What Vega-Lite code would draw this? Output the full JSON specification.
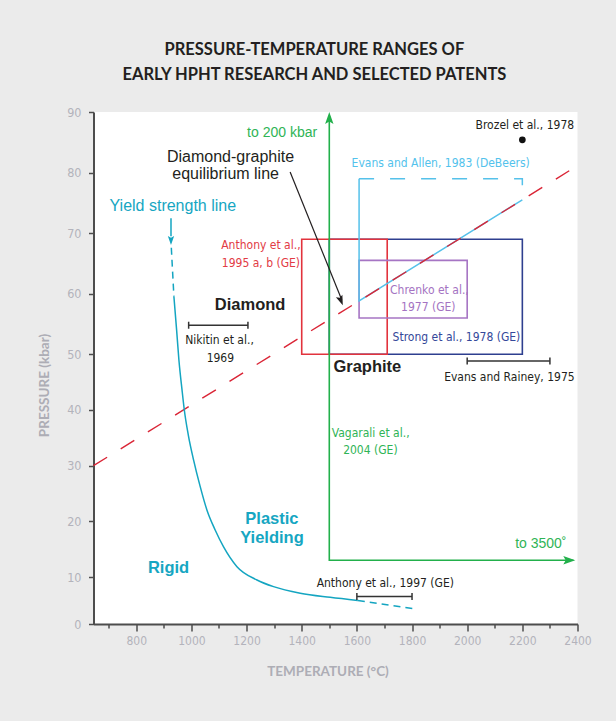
{
  "$schema": "https://vega.github.io/schema/vega-lite/v6.json",
  "autosize": {"type": "none"},
  "padding": {"left": 93.5, "top": 112, "right": 38.5, "bottom": 97},
  "width": 484,
  "height": 512,
  "background": "#ebebeb",
  "config": {"view": {"fill": "white", "stroke": null}},
  "title": {
    "text": ["PRESSURE-TEMPERATURE RANGES OF", "EARLY HPHT RESEARCH AND SELECTED PATENTS"],
    "font": "Lato", "fontSize": 16.5, "fontWeight": "bold", "color": "#231f20",
    "lineHeight": 25, "anchor": "middle", "frame": "bounds", "offset": 22.5
  },
  "datasets": {
    "boxes": [
      {"src": "Strong et al., 1978 (GE)", "x": 1500, "x2": 2200, "y": 50, "y2": 69},
      {"src": "Anthony et al., 1995 a, b (GE)", "x": 1400, "x2": 1710, "y": 50, "y2": 69},
      {"src": "Chrenko et al., 1977 (GE)", "x": 1608, "x2": 2000, "y": 56, "y2": 65.5}
    ],
    "evans_solid": [
      {"o": 1, "x": 2200, "y": 75.5},
      {"o": 2, "x": 1608, "y": 58.8},
      {"o": 3, "x": 1608, "y": 79}
    ],
    "evans_dash": [
      {"o": 1, "x": 1608, "y": 79},
      {"o": 2, "x": 2200, "y": 79},
      {"o": 3, "x": 2200, "y": 75.5}
    ],
    "equilibrium": [
      {"x": 645, "y": 30},
      {"x": 2370, "y": 80.3}
    ],
    "vagarali": [
      {"o": 1, "x": 1500, "y": 88.5},
      {"o": 2, "x": 1500, "y": 13},
      {"o": 3, "x": 2385, "y": 13}
    ],
    "vagarali_up": [{"x": 1500, "y": 90}],
    "vagarali_right": [{"x": 2392, "y": 13}],
    "yield_solid": [
      {"x": 936.6, "y": 59.5}, {"x": 946.4, "y": 54.0}, {"x": 954.7, "y": 48.98},
      {"x": 966, "y": 43.6}, {"x": 974.3, "y": 40.0}, {"x": 988.8, "y": 35.5},
      {"x": 1008, "y": 31.0}, {"x": 1030.5, "y": 26.5}, {"x": 1056.5, "y": 22.0},
      {"x": 1086.6, "y": 18.4}, {"x": 1116.7, "y": 15.4}, {"x": 1165.2, "y": 11.85},
      {"x": 1237.7, "y": 9.37}, {"x": 1297.8, "y": 7.95}, {"x": 1394.6, "y": 6.55},
      {"x": 1503.3, "y": 5.67}, {"x": 1603.6, "y": 4.99}
    ],
    "yield_dash": [
      {"seg": "upper", "x": 927.2, "y": 67.6},
      {"seg": "upper", "x": 936.6, "y": 59.5},
      {"seg": "lower", "x": 1603.6, "y": 4.99},
      {"seg": "lower", "x": 1817.4, "y": 3.17}
    ],
    "yield_pointer": [
      {"o": 1, "x": 926, "y": 72.45},
      {"o": 2, "x": 926, "y": 69.5}
    ],
    "yield_pointer_head": [{"x": 926, "y": 68.05}],
    "eq_pointer": [
      {"o": 1, "x": 1358, "y": 80.1},
      {"o": 2, "x": 1545, "y": 59.0}
    ],
    "eq_pointer_head": [{"x": 1549, "y": 58.1}],
    "bars": [
      {"x": 990, "x2": 1205, "y": 54.8},
      {"x": 2000, "x2": 2300, "y": 48.8},
      {"x": 1600, "x2": 1800, "y": 5.83}
    ],
    "caps": [
      {"x": 990, "y": 54.8}, {"x": 1205, "y": 54.8},
      {"x": 2000, "y": 48.8}, {"x": 2300, "y": 48.8},
      {"x": 1600, "y": 5.83}, {"x": 1800, "y": 5.83}
    ],
    "brozel": [{"x": 2200, "y": 85.4}],
    "labels_cond": [
      {"t": "Anthony et al.,", "x": 1252, "y": 68.05, "src": "Anthony et al., 1995 a, b (GE)"},
      {"t": "1995 a, b (GE)", "x": 1252, "y": 65.1, "src": "Anthony et al., 1995 a, b (GE)"},
      {"t": "Nikitin et al.,", "x": 1102, "y": 52.4, "src": "Nikitin et al., 1969"},
      {"t": "1969", "x": 1105, "y": 49.4, "src": "Nikitin et al., 1969"},
      {"t": "Evans and Rainey, 1975", "x": 2153, "y": 46.0, "src": "Evans and Rainey, 1975"},
      {"t": "Brozel et al., 1978", "x": 2209, "y": 87.9, "src": "Brozel et al., 1978"},
      {"t": "Evans and Allen, 1983 (DeBeers)", "x": 1904, "y": 81.5, "src": "Evans and Allen, 1983 (DeBeers)"},
      {"t": "Chrenko et al.,", "x": 1863, "y": 60.6, "src": "Chrenko et al., 1977 (GE)"},
      {"t": "1977 (GE)", "x": 1859, "y": 57.8, "src": "Chrenko et al., 1977 (GE)"},
      {"t": "Strong et al., 1978 (GE)", "x": 1961, "y": 52.9, "src": "Strong et al., 1978 (GE)"},
      {"t": "Vagarali et al.,", "x": 1650, "y": 35.8, "src": "Vagarali et al., 2004 (GE)"},
      {"t": "2004 (GE)", "x": 1649, "y": 32.8, "src": "Vagarali et al., 2004 (GE)"},
      {"t": "Anthony et al., 1997 (GE)", "x": 1703, "y": 8.67, "src": "Anthony et al., 1997 (GE)"}
    ],
    "labels_regular": [
      {"t": "Diamond-graphite", "x": 1142, "y": 82.6, "src": "Equilibrium"},
      {"t": "equilibrium line", "x": 1124, "y": 79.8, "src": "Equilibrium"},
      {"t": "Yield strength line", "x": 932.6, "y": 74.5, "src": "Yield strength"}
    ],
    "labels_small": [
      {"t": "to 200 kbar", "x": 1329, "y": 86.6, "src": "Vagarali et al., 2004 (GE)"},
      {"t": "to 3500˚", "x": 2267, "y": 15.9, "src": "Vagarali et al., 2004 (GE)"}
    ],
    "labels_bold": [
      {"t": "Diamond", "x": 1213, "y": 58.1, "src": "Phase"},
      {"t": "Graphite", "x": 1638, "y": 47.7, "src": "Phase"},
      {"t": "Plastic", "x": 1292, "y": 20.5, "src": "Yield strength"},
      {"t": "Yielding", "x": 1292, "y": 16.95, "src": "Yield strength"},
      {"t": "Rigid", "x": 917, "y": 11.7, "src": "Yield strength"}
    ]
  },
  "encoding": {
    "x": {
      "field": "x", "type": "quantitative",
      "scale": {"domain": [645, 2400], "nice": false, "zero": false},
      "axis": {
        "values": [700, 800, 900, 1000, 1100, 1200, 1300, 1400, 1500, 1600, 1700, 1800, 1900, 2000, 2100, 2200, 2300, 2400],
        "format": "d",
        "labelExpr": "datum.value % 200 === 0 ? datum.label : ''",
        "grid": false,
        "domainColor": "#4d4d4d", "domainWidth": 2,
        "tickColor": "#4d4d4d", "tickWidth": 1.5,
        "tickSize": {"condition": {"test": "datum.value % 200 === 0", "value": 7}, "value": 4},
        "labelColor": "#b3b3bb", "labelFont": "Liberation Sans Narrow, DejaVu Sans Condensed, sans-serif",
        "labelFontSize": 12, "labelPadding": 4, "labelFlush": false, "labelOverlap": false, "labelBound": false,
        "title": "TEMPERATURE (°C)", "titleFont": "Lato", "titleFontSize": 13.5, "titleFontWeight": "bold",
        "titleColor": "#adadb5", "titleX": 234, "titleY": 47, "titleAlign": "center", "titleBaseline": "middle"
      }
    },
    "y": {
      "field": "y", "type": "quantitative",
      "scale": {"domain": [0, 10, 50, 90], "range": [512, 465, 242.3, 0], "nice": false, "zero": false},
      "axis": {
        "values": [0, 10, 20, 30, 40, 50, 60, 70, 80, 90],
        "grid": false,
        "domainColor": "#4d4d4d", "domainWidth": 2,
        "tickColor": "#4d4d4d", "tickWidth": 1.5, "tickSize": 5,
        "labelColor": "#b3b3bb", "labelFont": "Liberation Sans Narrow, DejaVu Sans Condensed, sans-serif",
        "labelFontSize": 12.5, "labelPadding": 7.5, "labelOverlap": false, "labelBound": false,
        "title": "PRESSURE (kbar)", "titleFont": "Lato", "titleFontSize": 13.5, "titleFontWeight": "bold",
        "titleColor": "#adadb5", "titleAngle": -90, "titleX": -49, "titleY": 273,
        "titleAlign": "center", "titleBaseline": "middle"
      }
    }
  },
  "layer": [
    {
      "data": {"name": "boxes"},
      "mark": {"type": "rect", "fillOpacity": 0, "strokeWidth": 1.6},
      "encoding": {
        "x2": {"field": "x2"},
        "y2": {"field": "y2"},
        "stroke": {
          "field": "src", "type": "nominal", "legend": null,
          "scale": {
            "domain": ["Strong et al., 1978 (GE)", "Anthony et al., 1995 a, b (GE)", "Chrenko et al., 1977 (GE)"],
            "range": ["#2e3f8f", "#e2333d", "#a675c4"]
          }
        }
      }
    },
    {
      "data": {"name": "evans_solid"},
      "mark": {"type": "line", "color": "#55c1ea", "strokeWidth": 1.5},
      "encoding": {"order": {"field": "o"}}
    },
    {
      "data": {"name": "evans_dash"},
      "mark": {"type": "line", "color": "#55c1ea", "strokeWidth": 1.5, "strokeDash": [15, 16]},
      "encoding": {"order": {"field": "o"}}
    },
    {
      "data": {"name": "equilibrium"},
      "mark": {"type": "line", "color": "#da2536", "strokeWidth": 1.4, "strokeDash": [16, 16]},
      "encoding": {}
    },
    {
      "data": {"name": "vagarali"},
      "mark": {"type": "line", "color": "#22b04b", "strokeWidth": 1.6},
      "encoding": {"order": {"field": "o"}}
    },
    {
      "data": {"name": "vagarali_up"},
      "mark": {"type": "point", "shape": "M 0 0 L -0.35 -1 L 0 -0.8 L 0.35 -1 Z", "filled": true, "color": "#22b04b", "opacity": 1, "size": 576, "angle": 180, "strokeWidth": 0},
      "encoding": {}
    },
    {
      "data": {"name": "vagarali_right"},
      "mark": {"type": "point", "shape": "M 0 0 L -0.35 -1 L 0 -0.8 L 0.35 -1 Z", "filled": true, "color": "#22b04b", "opacity": 1, "size": 576, "angle": -90, "strokeWidth": 0},
      "encoding": {}
    },
    {
      "data": {"name": "yield_solid"},
      "mark": {"type": "line", "color": "#14a5c1", "strokeWidth": 1.5, "interpolate": "monotone"},
      "encoding": {}
    },
    {
      "data": {"name": "yield_dash"},
      "mark": {"type": "line", "color": "#14a5c1", "strokeWidth": 1.5, "strokeDash": [7, 5]},
      "encoding": {"detail": {"field": "seg"}}
    },
    {
      "data": {"name": "yield_pointer"},
      "mark": {"type": "line", "color": "#14a5c1", "strokeWidth": 1.5},
      "encoding": {"order": {"field": "o"}}
    },
    {
      "data": {"name": "yield_pointer_head"},
      "mark": {"type": "point", "shape": "M 0 0 L -0.35 -1 L 0 -0.8 L 0.35 -1 Z", "filled": true, "color": "#14a5c1", "opacity": 1, "size": 324, "angle": 0, "strokeWidth": 0},
      "encoding": {}
    },
    {
      "data": {"name": "eq_pointer"},
      "mark": {"type": "line", "color": "#231f20", "strokeWidth": 1.2},
      "encoding": {"order": {"field": "o"}}
    },
    {
      "data": {"name": "eq_pointer_head"},
      "mark": {"type": "point", "shape": "M 0 0 L -0.35 -1 L 0 -0.8 L 0.35 -1 Z", "filled": true, "color": "#231f20", "opacity": 1, "size": 400, "angle": -21.6, "strokeWidth": 0},
      "encoding": {}
    },
    {
      "data": {"name": "bars"},
      "mark": {"type": "rule", "color": "#333333", "strokeWidth": 1.5},
      "encoding": {"x2": {"field": "x2"}}
    },
    {
      "data": {"name": "caps"},
      "mark": {"type": "tick", "orient": "vertical", "color": "#333333", "size": 7, "thickness": 1.5, "opacity": 1},
      "encoding": {}
    },
    {
      "data": {"name": "brozel"},
      "mark": {"type": "point", "shape": "circle", "filled": true, "color": "#111111", "opacity": 1, "size": 45},
      "encoding": {}
    },
    {
      "data": {"name": "labels_cond"},
      "mark": {"type": "text", "font": "Liberation Sans Narrow, DejaVu Sans Condensed, sans-serif", "fontSize": 12, "align": "center", "baseline": "middle"},
      "encoding": {
        "text": {"field": "t"},
        "color": {
          "field": "src", "type": "nominal", "legend": null,
          "scale": {
            "domain": ["Anthony et al., 1995 a, b (GE)", "Nikitin et al., 1969", "Evans and Rainey, 1975", "Brozel et al., 1978", "Evans and Allen, 1983 (DeBeers)", "Chrenko et al., 1977 (GE)", "Strong et al., 1978 (GE)", "Vagarali et al., 2004 (GE)", "Anthony et al., 1997 (GE)", "Equilibrium", "Yield strength", "Phase"],
            "range": ["#e23b45", "#231f20", "#231f20", "#231f20", "#52c2ec", "#a473c2", "#34489a", "#2fb456", "#231f20", "#231f20", "#16a6c2", "#231f20"]
          }
        }
      }
    },
    {
      "data": {"name": "labels_regular"},
      "mark": {"type": "text", "font": "Liberation Sans, Arial, sans-serif", "fontSize": 16, "align": "center", "baseline": "middle"},
      "encoding": {
        "text": {"field": "t"},
        "color": {
          "field": "src", "type": "nominal", "legend": null,
          "scale": {
            "domain": ["Anthony et al., 1995 a, b (GE)", "Nikitin et al., 1969", "Evans and Rainey, 1975", "Brozel et al., 1978", "Evans and Allen, 1983 (DeBeers)", "Chrenko et al., 1977 (GE)", "Strong et al., 1978 (GE)", "Vagarali et al., 2004 (GE)", "Anthony et al., 1997 (GE)", "Equilibrium", "Yield strength", "Phase"],
            "range": ["#e23b45", "#231f20", "#231f20", "#231f20", "#52c2ec", "#a473c2", "#34489a", "#2fb456", "#231f20", "#231f20", "#16a6c2", "#231f20"]
          }
        }
      }
    },
    {
      "data": {"name": "labels_small"},
      "mark": {"type": "text", "font": "Liberation Sans, Arial, sans-serif", "fontSize": 14, "align": "center", "baseline": "middle"},
      "encoding": {
        "text": {"field": "t"},
        "color": {
          "field": "src", "type": "nominal", "legend": null,
          "scale": {
            "domain": ["Anthony et al., 1995 a, b (GE)", "Nikitin et al., 1969", "Evans and Rainey, 1975", "Brozel et al., 1978", "Evans and Allen, 1983 (DeBeers)", "Chrenko et al., 1977 (GE)", "Strong et al., 1978 (GE)", "Vagarali et al., 2004 (GE)", "Anthony et al., 1997 (GE)", "Equilibrium", "Yield strength", "Phase"],
            "range": ["#e23b45", "#231f20", "#231f20", "#231f20", "#52c2ec", "#a473c2", "#34489a", "#2fb456", "#231f20", "#231f20", "#16a6c2", "#231f20"]
          }
        }
      }
    },
    {
      "data": {"name": "labels_bold"},
      "mark": {"type": "text", "font": "Liberation Sans, Arial, sans-serif", "fontSize": 16.5, "fontWeight": "bold", "align": "center", "baseline": "middle"},
      "encoding": {
        "text": {"field": "t"},
        "color": {
          "field": "src", "type": "nominal", "legend": null,
          "scale": {
            "domain": ["Anthony et al., 1995 a, b (GE)", "Nikitin et al., 1969", "Evans and Rainey, 1975", "Brozel et al., 1978", "Evans and Allen, 1983 (DeBeers)", "Chrenko et al., 1977 (GE)", "Strong et al., 1978 (GE)", "Vagarali et al., 2004 (GE)", "Anthony et al., 1997 (GE)", "Equilibrium", "Yield strength", "Phase"],
            "range": ["#e23b45", "#231f20", "#231f20", "#231f20", "#52c2ec", "#a473c2", "#34489a", "#2fb456", "#231f20", "#231f20", "#16a6c2", "#231f20"]
          }
        }
      }
    }
  ]
}
